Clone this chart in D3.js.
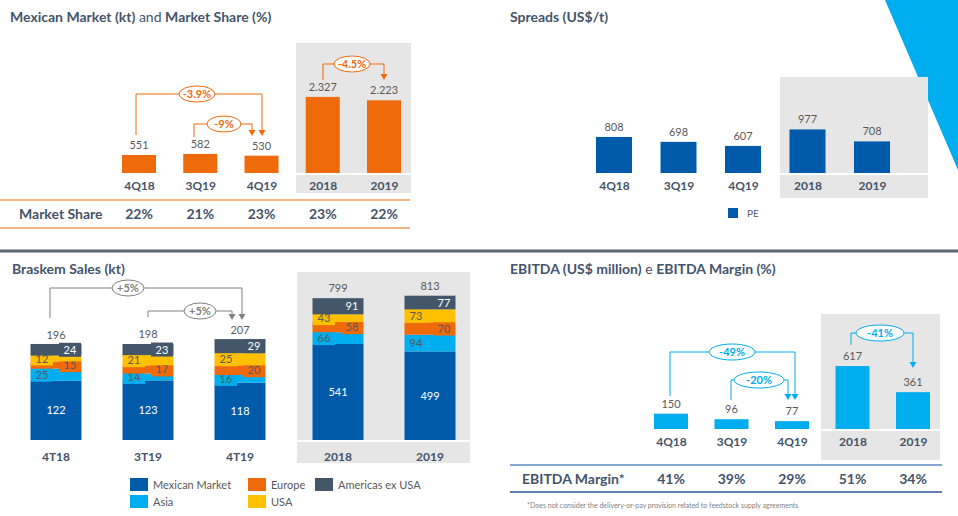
<!DOCTYPE html>
<html><head><meta charset="utf-8">
<script src="https://cdn.jsdelivr.net/npm/d3@7"></script>
<style>body{margin:0;background:#fff}svg{font-family:Lato,"Open Sans",sans-serif}</style>
</head><body>
<svg width="958" height="516"></svg>
<script>
// data
var periods = ["4Q18", "3Q19", "4Q19", "2018", "2019"];
var mexMarket = [551, 582, 530, 2327, 2223];
var mexLabels = ["551", "582", "530", "2.327", "2.223"];
var marketShare = ["22%", "21%", "23%", "23%", "22%"];
var spreads = [808, 698, 607, 977, 708];
var salesPeriods = ["4T18", "3T19", "4T19", "2018", "2019"];
var salesSeries = ["Mexican Market", "Asia", "Europe", "USA", "Americas ex USA"];
var salesMexican = [122, 123, 118, 541, 499];
var salesAsia = [25, 14, 16, 66, 94];
var salesEurope = [15, 17, 20, 58, 70];
var salesUSA = [12, 21, 25, 43, 73];
var salesAmericas = [24, 23, 29, 91, 77];
var salesTotals = [196, 198, 207, 799, 813];
var ebitda = [150, 96, 77, 617, 361];
var ebitdaMargin = ["41%", "39%", "29%", "51%", "34%"];

var C = {dark:"#44546A", orange:"#EE6A0A", navy:"#005AAA", sky:"#00AEEF", yellow:"#FFC000", slate:"#44576A", gray:"#E6E6E6", txt:"#595959"};
var svg = d3.select("svg");

svg.append("polygon").attr("points", "885,0 958,0 958,170").attr("fill", C.sky);
svg.append("line").attr("x1", 0).attr("x2", 958).attr("y1", 251).attr("y2", 251).attr("stroke", "#5a6670").attr("stroke-width", 3);

function title(x, y, parts) {
  var t = svg.append("text").attr("x", x).attr("y", y).attr("font-size", 14).attr("fill", C.dark);
  parts.forEach(function (p) { t.append("tspan").attr("font-weight", p[1] ? "bold" : "normal").text(p[0]); });
}
function pill(cx, cy, w, label, color, x1, y1, x2, y2, dy) {
  var g = svg.append("g").attr("fill", "none").attr("stroke", color).attr("stroke-width", 1);
  g.append("path").attr("d", "M" + x1 + "," + y1 + "V" + cy + "H" + x2 + "V" + (y2 - 5));
  svg.append("path").attr("d", "M" + (x2 - 3.5) + "," + (y2 - 6) + "L" + (x2 + 3.5) + "," + (y2 - 6) + "L" + x2 + "," + y2 + "Z").attr("fill", color);
  svg.append("ellipse").attr("cx", cx).attr("cy", cy).attr("rx", w / 2).attr("ry", 8).attr("fill", "#fff").attr("stroke", color);
  svg.append("text").attr("x", cx).attr("y", cy + 4).attr("text-anchor", "middle").attr("font-size", 11).attr("font-weight", "bold").attr("fill", color).text(label);
}
function simplePanel(o) {
  svg.append("rect").attr("x", o.gx).attr("y", o.gy).attr("width", o.gw).attr("height", o.gh).attr("fill", C.gray);
  svg.append("line").attr("x1", o.gx).attr("x2", o.gx + o.gw).attr("y1", o.base + 1).attr("y2", o.base + 1).attr("stroke", "#fff").attr("stroke-width", 2);
  var x = d3.scalePoint().domain(periods).range([o.x0, o.x1]);
  var y = d3.scaleLinear().domain([0, 1]).range([o.base, o.base - o.k]);
  periods.forEach(function (p, i) {
    var v = o.values[i];
    svg.append("rect").attr("x", x(p) - o.bw / 2).attr("width", o.bw).attr("y", y(v)).attr("height", o.base - y(v)).attr("fill", o.color);
    svg.append("text").attr("x", x(p)).attr("y", y(v) - 6).attr("text-anchor", "middle").attr("font-size", 11).attr("fill", C.txt).text(o.labels[i]);
  });
  var ax = svg.append("g").attr("transform", "translate(0," + o.base + ")").call(d3.axisBottom(x).tickSize(0).tickPadding(8));
  ax.select(".domain").remove();
  ax.selectAll("text").attr("font-size", 12).attr("font-weight", "bold").attr("fill", C.dark).attr("font-family", "Lato,'Open Sans',sans-serif");
  return x;
}

// Panel 1
title(10, 22, [["Mexican Market (kt)", 1], [" and ", 0], ["Market Share (%)", 1]]);
var x1 = simplePanel({gx:296, gy:43, gw:115, gh:150, base:173, x0:139, x1:384, bw:34, k:0.0327, values:mexMarket, labels:mexLabels, color:C.orange});
svg.append("line").attr("x1", 0).attr("x2", 410).attr("y1", 200).attr("y2", 200).attr("stroke", C.orange);
svg.append("line").attr("x1", 0).attr("x2", 410).attr("y1", 228).attr("y2", 228).attr("stroke", C.orange);
svg.append("text").attr("x", 19).attr("y", 219).attr("font-size", 14).attr("font-weight", "bold").attr("fill", C.dark).text("Market Share");
marketShare.forEach(function (s, i) {
  svg.append("text").attr("x", x1(periods[i])).attr("y", 219).attr("text-anchor", "middle").attr("font-size", 14).attr("font-weight", "bold").attr("fill", C.dark).text(s);
});
pill(197, 94, 36, "-3.9%", C.orange, 136, 135, 262, 136);
pill(224, 124, 34, "-9%", C.orange, 194, 137, 252, 136);
pill(352, 64, 36, "-4.5%", C.orange, 323, 80, 384, 80);

// Panel 2
title(510, 22, [["Spreads (US$/t)", 1]]);
simplePanel({gx:780, gy:77, gw:148, gh:121, base:173, x0:614, x1:872, bw:36, k:0.0446, values:spreads, labels:spreads.map(String), color:C.navy});
svg.append("rect").attr("x", 728).attr("y", 208).attr("width", 10).attr("height", 10).attr("fill", C.navy);
svg.append("text").attr("x", 747).attr("y", 217).attr("font-size", 10).attr("fill", C.txt).text("PE");

// Panel 3
title(12, 274, [["Braskem Sales (kt)", 1]]);
svg.append("rect").attr("x", 297).attr("y", 272).attr("width", 173).attr("height", 191).attr("fill", C.gray);
svg.append("line").attr("x1", 297).attr("x2", 470).attr("y1", 441).attr("y2", 441).attr("stroke", "#fff").attr("stroke-width", 2);
var seriesVals = [salesMexican, salesAsia, salesEurope, salesUSA, salesAmericas];
var seriesCol = [C.navy, C.sky, C.orange, C.yellow, C.slate];
var seriesTxt = ["#fff", C.txt, C.txt, C.txt, "#fff"];
var sx = d3.scalePoint().domain(salesPeriods).range([56, 430]);
var sx2 = d3.scaleOrdinal().domain(salesPeriods).range([56, 148, 240, 338, 430]);
var yQ = d3.scaleLinear().domain([0, 200]).range([440, 440 - 97]);
var yY = d3.scaleLinear().domain([0, 800]).range([440, 440 - 142]);
var rows = salesPeriods.map(function (p, i) {
  var r = {period: p}; salesSeries.forEach(function (s, j) { r[s] = seriesVals[j][i]; }); return r;
});
var stacked = d3.stack().keys(salesSeries)(rows);
stacked.forEach(function (layer, j) {
  layer.forEach(function (d, i) {
    var y = i < 3 ? yQ : yY, cx = sx2(salesPeriods[i]);
    svg.append("rect").attr("x", cx - 25.5).attr("width", 51).attr("y", y(d[1])).attr("height", y(d[0]) - y(d[1])).attr("fill", seriesCol[j]);
    var mid = (y(d[0]) + y(d[1])) / 2;
    var off = j === 0 ? 0 : (j === 1 || j === 3 ? -14 : 14);
    if (i >= 3 && j === 1) off = -14;
    if (j > 0 && j < 4 || (j === 4 && i < 3)) {
      svg.append("rect").attr("x", cx + off - 11).attr("y", mid - 7).attr("width", 22).attr("height", 14).attr("fill", seriesCol[j]);
    }
    svg.append("text").attr("x", cx + off).attr("y", mid + 4 + (j === 0 ? 0 : 0)).attr("text-anchor", "middle").attr("font-size", 11).attr("fill", seriesTxt[j]).text(seriesVals[j][i]);
  });
});
salesPeriods.forEach(function (p, i) {
  var y = i < 3 ? yQ : yY;
  svg.append("text").attr("x", sx2(p)).attr("y", y(salesTotals[i]) - 6).attr("text-anchor", "middle").attr("font-size", 11).attr("fill", C.txt).text(salesTotals[i]);
  svg.append("text").attr("x", sx2(p)).attr("y", 461).attr("text-anchor", "middle").attr("font-size", 12).attr("font-weight", "bold").attr("fill", C.dark).text(p);
});
pill(128, 288, 32, "+5%", "#808080", 50, 318, 242, 320);
pill(200, 311, 32, "+5%", "#808080", 148, 317, 232, 320);
var legendX = [130, 248, 315, 130, 248], legendY = [478, 478, 478, 495, 495];
var legendOrder = ["Mexican Market", "Europe", "Americas ex USA", "Asia", "USA"];
legendOrder.forEach(function (s, k) {
  var j = salesSeries.indexOf(s);
  svg.append("rect").attr("x", legendX[k]).attr("y", legendY[k]).attr("width", 18).attr("height", 13).attr("fill", seriesCol[j]);
  svg.append("text").attr("x", legendX[k] + 23).attr("y", legendY[k] + 11).attr("font-size", 11).attr("fill", C.txt).text(s);
});

// Panel 4
title(510, 274, [["EBITDA (US$ million)", 1], [" e ", 0], ["EBITDA Margin (%)", 1]]);
var x4 = simplePanel({gx:821, gy:314, gw:119, gh:146, base:429, x0:671, x1:913, bw:34, k:0.102, values:ebitda, labels:ebitda.map(String), color:C.sky});
svg.append("line").attr("x1", 510).attr("x2", 942).attr("y1", 465).attr("y2", 465).attr("stroke", "#5B8BC5").attr("stroke-width", 1.5);
svg.append("line").attr("x1", 510).attr("x2", 942).attr("y1", 492).attr("y2", 492).attr("stroke", "#2F5597").attr("stroke-width", 1.5);
svg.append("text").attr("x", 522).attr("y", 484).attr("font-size", 14).attr("font-weight", "bold").attr("fill", C.dark).text("EBITDA Margin*");
ebitdaMargin.forEach(function (s, i) {
  svg.append("text").attr("x", x4(periods[i])).attr("y", 484).attr("text-anchor", "middle").attr("font-size", 14).attr("font-weight", "bold").attr("fill", C.dark).text(s);
});
svg.append("text").attr("x", 527).attr("y", 508).attr("font-size", 7).attr("fill", "#7f7f7f").text("*Does not consider the delivery-or-pay provision related to feedstock supply agreements");
pill(732, 352, 46, "-49%", C.sky, 670, 396, 795, 400);
pill(759, 380, 50, "-20%", C.sky, 731, 400, 788, 400);
pill(880, 333, 48, "-41%", C.sky, 851, 345, 913, 368);
</script>
</body></html>
